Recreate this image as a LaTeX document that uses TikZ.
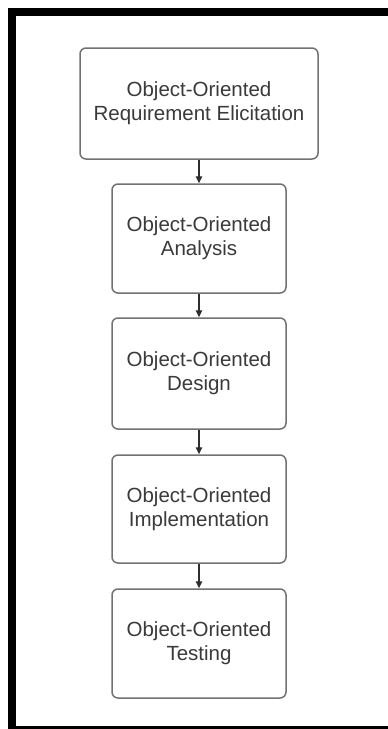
\documentclass[tikz,border=0pt]{standalone}
\usepackage{fontspec}
\setmainfont{Liberation Sans}
\usetikzlibrary{arrows.meta}
\definecolor{boxline}{HTML}{727272}
\definecolor{boxtext}{HTML}{3A3A3A}
\definecolor{arrowcol}{HTML}{2E2E2E}
\tikzset{
  stage/.style={draw=boxline, line width=1.5pt, rounded corners=6pt, fill=white,
    minimum width=174pt, minimum height=109pt, inner sep=0pt, align=center,
    text=boxtext, font=\fontsize{20.5pt}{24pt}\selectfont},
  flow/.style={draw=arrowcol, line width=1.2pt, -{Triangle[length=7pt,width=6.5pt]}}
}
\begin{document}
\begin{tikzpicture}[x=1pt, y=-1pt]
  \useasboundingbox (0,0) rectangle (388,729);
  % heavy frame on top, left and bottom
  \fill[black] (8,8) rectangle (388,16);
  \fill[black] (8,8) rectangle (16,729);
  \fill[black] (8,726) rectangle (388,729);
  % process stages
  \node[stage, minimum width=238pt, minimum height=111pt] (req) at (199,103.5) {Object-Oriented\\Requirement Elicitation};
  \node[stage] (ana) at (199,238.5) {Object-Oriented\\Analysis};
  \node[stage, minimum height=111pt] (des) at (199,373.5) {Object-Oriented\\Design};
  \node[stage, minimum height=108pt] (imp) at (199,509) {Object-Oriented\\Implementation};
  \node[stage] (tst) at (199,643.5) {Object-Oriented\\Testing};
  % connectors
  \draw[flow] (req.south) -- (ana.north);
  \draw[flow] (ana.south) -- (des.north);
  \draw[flow] (des.south) -- (imp.north);
  \draw[flow] (imp.south) -- (tst.north);
\end{tikzpicture}
\end{document}
